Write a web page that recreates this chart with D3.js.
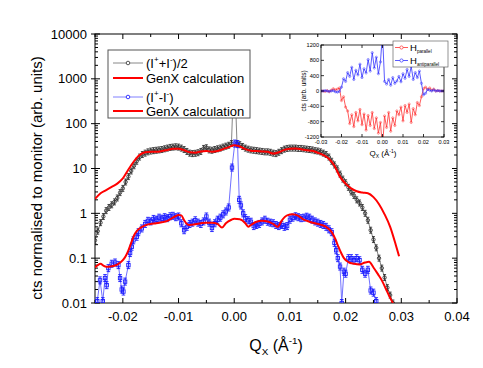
<!DOCTYPE html>
<html><head><meta charset="utf-8">
<script src="https://cdn.jsdelivr.net/npm/d3@7"></script>
<style>body{margin:0;background:#fff}svg{display:block;font-family:"Liberation Sans",Arial,sans-serif}</style>
</head><body><svg id="c" width="483" height="368"></svg>
<script>
// ---------- data ----------
const avgQ = [-0.0250,-0.0245,-0.0240,-0.0235,-0.0230,-0.0225,-0.0220,-0.0215,-0.0210,-0.0205,-0.0200,-0.0195,-0.0190,-0.0185,-0.0180,-0.0175,-0.0170,-0.0165,-0.0160,-0.0155,-0.0150,-0.0145,-0.0140,-0.0135,-0.0130,-0.0125,-0.0120,-0.0115,-0.0110,-0.0105,-0.0100,-0.0095,-0.0090,-0.0085,-0.0080,-0.0075,-0.0070,-0.0065,-0.0060,-0.0055,-0.0050,-0.0045,-0.0040,-0.0035,-0.0030,-0.0025,-0.0020,-0.0015,-0.0010,-0.0005,0.0000,0.0005,0.0010,0.0015,0.0020,0.0025,0.0030,0.0035,0.0040,0.0045,0.0050,0.0055,0.0060,0.0065,0.0070,0.0075,0.0080,0.0085,0.0090,0.0095,0.0100,0.0105,0.0110,0.0115,0.0120,0.0125,0.0130,0.0135,0.0140,0.0145,0.0150,0.0155,0.0160,0.0165,0.0170,0.0175,0.0180,0.0185,0.0190,0.0195,0.0200,0.0205,0.0210,0.0215,0.0220,0.0225,0.0230,0.0235,0.0240,0.0245,0.0250,0.0255,0.0260,0.0265,0.0270,0.0275,0.0280,0.0285];
const avgVal = [0.25,0.40,0.62,0.85,1.15,1.35,1.55,1.8,2.2,2.9,3.6,5.0,6.6,8.8,11.5,14.5,18,20.5,22,23.5,24.5,25,25.5,26,26.5,27.5,28.5,29.5,30,30.5,30,28.5,26.5,24,22,21.5,21.8,22.5,24,28,29,26,25.5,26.5,27.5,28.5,30,31.5,33,36,2000,36,34,31,28.5,27,26,25.5,25,24.5,24,23.5,23.5,23,22,21.5,23,25,27,28,28.5,28.5,28.5,28,28,27.5,27,26.5,26,25,24.5,23.5,22,20.5,18,14.5,12,9.8,7.5,5.8,4.8,3.8,3.0,2.5,2.0,1.7,1.35,1.0,0.70,0.42,0.26,0.17,0.10,0.06,0.037,0.022,0.015,0.010];

const diffQ = [-0.0246,-0.0241,-0.0236,-0.0232,-0.0229,-0.0226,-0.0220,-0.0214,-0.0208,-0.0205,-0.0202,-0.0199,-0.0196,-0.0190,-0.0187,-0.0184,-0.0181,-0.0175,-0.0172,-0.0166,-0.0160,-0.0155,-0.0150,-0.0145,-0.0140,-0.0135,-0.0130,-0.0125,-0.0120,-0.0115,-0.0110,-0.0105,-0.0100,-0.0095,-0.0090,-0.0085,-0.0080,-0.0075,-0.0070,-0.0065,-0.0060,-0.0055,-0.0050,-0.0045,-0.0040,-0.0035,-0.0030,-0.0025,-0.0020,-0.0015,-0.0010,-0.0004,0.0001,0.0006,0.0009,0.0012,0.0016,0.0020,0.0025,0.0030,0.0035,0.0040,0.0045,0.0050,0.0055,0.0060,0.0065,0.0070,0.0075,0.0080,0.0085,0.0090,0.0095,0.0100,0.0105,0.0110,0.0115,0.0120,0.0125,0.0130,0.0135,0.0140,0.0145,0.0150,0.0155,0.0160,0.0165,0.0170,0.0175,0.0180,0.0183,0.0186,0.0190,0.0193,0.0197,0.0200,0.0205,0.0210,0.0215,0.0220,0.0225,0.0230,0.0235,0.0240,0.0245,0.0250,0.0255];
const diffVal = [0.011,0.032,0.011,0.036,0.025,0.060,0.075,0.080,0.070,0.036,0.020,0.018,0.030,0.070,0.13,0.18,0.25,0.30,0.38,0.46,0.58,0.68,0.66,0.75,0.72,0.80,0.76,0.82,0.78,0.86,0.88,0.82,0.85,0.60,0.42,0.50,0.58,0.62,0.70,0.62,0.58,0.66,0.85,0.62,0.47,0.60,0.72,0.80,0.95,1.10,1.35,10.5,36,35,2.0,1.5,1.0,0.78,0.70,0.65,0.52,0.55,0.58,0.66,0.72,0.65,0.62,0.60,0.55,0.52,0.55,0.50,0.52,0.72,0.80,0.86,0.82,0.78,0.80,0.84,0.80,0.72,0.66,0.62,0.58,0.55,0.50,0.44,0.38,0.22,0.15,0.10,0.065,0.010,0.05,0.045,0.10,0.10,0.09,0.10,0.09,0.055,0.045,0.055,0.019,0.017,0.011];

const fitAvgQ = [-0.0250,-0.0240,-0.0230,-0.0220,-0.0210,-0.0200,-0.0190,-0.0180,-0.0170,-0.0160,-0.0150,-0.0140,-0.0130,-0.0120,-0.0110,-0.0100,-0.0090,-0.0080,-0.0070,-0.0060,-0.0050,-0.0040,-0.0030,-0.0020,-0.0010,0.0000,0.0010,0.0020,0.0030,0.0040,0.0050,0.0060,0.0070,0.0080,0.0090,0.0100,0.0110,0.0120,0.0130,0.0140,0.0150,0.0160,0.0170,0.0180,0.0190,0.0200,0.0210,0.0220,0.0230,0.0240,0.0250,0.0260,0.0270,0.0280,0.0290,0.0296];
const fitAvgVal = [2.1,2.8,3.3,3.9,4.6,6.0,9.5,14.5,20,23,23.7,23.7,24.5,26,27.5,27.5,25.5,23,22.5,24,24.5,23.7,24.5,27,30,33,31,27,25,24.5,24,23.5,21.5,23,26,27.5,28,27,25.5,24.8,22.5,20,16.5,11.5,6.5,4.6,3.6,3.1,2.9,2.8,2.3,1.6,0.95,0.5,0.2,0.11];

const fitDiffQ = [-0.0250,-0.0245,-0.0240,-0.0235,-0.0230,-0.0220,-0.0210,-0.0200,-0.0195,-0.0190,-0.0185,-0.0180,-0.0175,-0.0170,-0.0160,-0.0150,-0.0140,-0.0130,-0.0120,-0.0110,-0.0100,-0.0095,-0.0090,-0.0085,-0.0080,-0.0070,-0.0060,-0.0050,-0.0040,-0.0030,-0.0022,-0.0015,-0.0005,0.0000,0.0010,0.0020,0.0025,0.0030,0.0040,0.0050,0.0060,0.0070,0.0078,0.0085,0.0095,0.0105,0.0115,0.0125,0.0135,0.0145,0.0155,0.0165,0.0175,0.0182,0.0187,0.0192,0.0197,0.0205,0.0215,0.0225,0.0235,0.0242,0.0250,0.0258,0.0265,0.0272,0.0280,0.0285];
const fitDiffVal = [0.062,0.070,0.075,0.068,0.064,0.066,0.072,0.09,0.11,0.15,0.22,0.32,0.40,0.46,0.54,0.58,0.60,0.63,0.68,0.80,0.92,0.90,0.70,0.58,0.55,0.57,0.60,0.62,0.62,0.58,0.48,0.60,0.72,0.76,0.74,0.60,0.50,0.55,0.65,0.68,0.66,0.58,0.50,0.68,0.90,0.95,0.88,0.72,0.65,0.60,0.56,0.50,0.38,0.26,0.18,0.13,0.10,0.082,0.075,0.072,0.080,0.083,0.062,0.044,0.032,0.021,0.013,0.010];

const insetQ = [-0.030,-0.029,-0.028,-0.027,-0.026,-0.025,-0.024,-0.023,-0.022,-0.021,-0.020,-0.019,-0.018,-0.017,-0.016,-0.015,-0.014,-0.013,-0.012,-0.011,-0.010,-0.009,-0.008,-0.007,-0.006,-0.005,-0.004,-0.003,-0.002,-0.001,0.000,0.001,0.002,0.003,0.004,0.005,0.006,0.007,0.008,0.009,0.010,0.011,0.012,0.013,0.014,0.015,0.016,0.017,0.018,0.019,0.020,0.021,0.022,0.023,0.024,0.025,0.026,0.027,0.028,0.029,0.030];
const hParallel = [0,0,-10,10,-20,20,60,30,50,80,-250,-150,-420,-520,-850,-620,-930,-560,-780,-480,-880,-600,-1020,-640,-900,-560,-980,-700,-1100,-820,-1500,-650,-950,-560,-1050,-700,-900,-520,-620,-420,-780,-380,-560,-340,-820,-460,-620,-300,-380,-150,60,100,40,80,20,50,0,10,0,0,0];
const hAntiparallel = [0,0,10,0,-10,0,10,-20,-30,-10,100,320,250,480,380,620,300,540,420,700,350,580,470,820,520,1000,600,880,450,760,1500,250,180,300,150,350,200,260,380,240,450,330,560,380,640,300,480,350,520,200,-100,-60,40,20,0,30,0,10,0,0,0];

const xTicks = [-0.02,-0.01,0.00,0.01,0.02,0.03,0.04];
const yTicks = [0.01,0.1,1,10,100,1000,10000];
const insetXTicks = [-0.03,-0.02,-0.01,0.00,0.01,0.02,0.03];
const insetYTicks = [-1200,-800,-400,0,400,800,1200];

// ---------- drawing ----------
const svg = d3.select('#c');
const fmt2 = v => d3.format('.2f')(v).replace('\u2212','-');
const yFmt = v => v >= 1 ? String(Math.round(v)) : String(+v.toPrecision(1));

const x = d3.scaleLinear().domain([-0.025,0.04]).range([95,457]);
const y = d3.scaleLog().domain([0.01,10000]).range([303,34]);

svg.append('rect').attr('width',483).attr('height',368).attr('fill','#fff');

const defs = svg.append('defs');
defs.append('clipPath').attr('id','mainClip').append('rect')
  .attr('x',95).attr('y',34).attr('width',362).attr('height',269);

function richText(sel, parts, size){
  let cur = 0;
  parts.forEach(p => {
    let target = 0, fs = size;
    if (p.s === 'sup'){ target = -size*0.42; fs = size*0.62; }
    if (p.s === 'sub'){ target = size*0.28; fs = size*0.62; }
    sel.append('tspan').attr('dy', target-cur).attr('font-size', fs).text(p.t);
    cur = target;
  });
}

// main axes ticks
const gAx = svg.append('g').attr('stroke','#000').attr('stroke-width',1);
const [x0,x1] = x.range(), [yb,yt] = y.range();
const xMinor = d3.range(-0.025, 0.0401, 0.005);
xMinor.forEach(v => {
  const isMajor = xTicks.some(t => Math.abs(t-v) < 1e-9);
  const L = isMajor ? 5 : 3;
  gAx.append('line').attr('x1',x(v)).attr('x2',x(v)).attr('y1',yb).attr('y2',yb-L);
  gAx.append('line').attr('x1',x(v)).attr('x2',x(v)).attr('y1',yt).attr('y2',yt+L);
});
y.ticks().forEach(v => {
  const isMajor = yTicks.some(t => Math.abs(Math.log10(t)-Math.log10(v)) < 1e-9);
  const L = isMajor ? 5 : 3;
  gAx.append('line').attr('x1',x0).attr('x2',x0+L).attr('y1',y(v)).attr('y2',y(v));
  gAx.append('line').attr('x1',x1).attr('x2',x1-L).attr('y1',y(v)).attr('y2',y(v));
  if (isMajor) gAx.append('line').attr('x1',x0-4).attr('x2',x0).attr('y1',y(v)).attr('y2',y(v));
});
gAx.append('rect').attr('x',x0).attr('y',yt).attr('width',x1-x0).attr('height',yb-yt).attr('fill','none');

// tick labels
svg.append('g').selectAll('text').data(xTicks).join('text')
  .attr('x', d => x(d)).attr('y', 321).attr('text-anchor','middle')
  .attr('font-size',13).text(fmt2);
svg.append('g').selectAll('text').data(yTicks).join('text')
  .attr('x', 87).attr('y', d => y(d)+4.5).attr('text-anchor','end')
  .attr('font-size',13).text(yFmt);

// axis titles
const xt = svg.append('text').attr('x',276).attr('y',351).attr('text-anchor','middle').attr('font-size',16);
richText(xt, [{t:'Q'},{t:'X',s:'sub'},{t:' (Å'},{t:'-1',s:'sup'},{t:')'}], 16);
svg.append('text').attr('transform','translate(42,178) rotate(-90)').attr('text-anchor','middle')
  .attr('font-size',15).text('cts normalised to monitor (arb. units)');

// plot content
const plot = svg.append('g').attr('clip-path','url(#mainClip)');
const line = d3.line().x(d => x(d[0])).y(d => y(d[1]));
const smooth = d3.line().x(d => x(d[0])).y(d => y(d[1])).curve(d3.curveMonotoneX);

const avg = avgQ.map((q,i) => [q, avgVal[i]]);
const diff = diffQ.map((q,i) => [q, diffVal[i]]);
const fitA = fitAvgQ.map((q,i) => [q, fitAvgVal[i]]);
const fitD = fitDiffQ.map((q,i) => [q, fitDiffVal[i]]);

// black data
plot.append('path').attr('d', line(avg)).attr('fill','none').attr('stroke','#666').attr('stroke-width',0.8);
const gb = plot.append('g').attr('stroke','#222').attr('stroke-width',0.8).attr('fill','none');
avg.forEach(d => {
  const cx = x(d[0]), cy = y(d[1]);
  gb.append('line').attr('x1',cx).attr('x2',cx).attr('y1',cy-3).attr('y2',cy+3);
  gb.append('line').attr('x1',cx-1.5).attr('x2',cx+1.5).attr('y1',cy-3).attr('y2',cy-3);
  gb.append('line').attr('x1',cx-1.5).attr('x2',cx+1.5).attr('y1',cy+3).attr('y2',cy+3);
  gb.append('circle').attr('cx',cx).attr('cy',cy).attr('r',1.7);
});

// blue data
plot.append('path').attr('d', line(diff)).attr('fill','none').attr('stroke','#7070ff').attr('stroke-width',1);
const gbl = plot.append('g').attr('stroke','#1a1aff').attr('stroke-width',0.9).attr('fill','none');
diff.forEach(d => {
  const cx = x(d[0]), cy = y(d[1]);
  gbl.append('line').attr('x1',cx).attr('x2',cx).attr('y1',cy-3.5).attr('y2',cy+3.5);
  gbl.append('line').attr('x1',cx-1.8).attr('x2',cx+1.8).attr('y1',cy-3.5).attr('y2',cy-3.5);
  gbl.append('line').attr('x1',cx-1.8).attr('x2',cx+1.8).attr('y1',cy+3.5).attr('y2',cy+3.5);
  gbl.append('rect').attr('x',cx-1.7).attr('y',cy-1.7).attr('width',3.4).attr('height',3.4);
});

// fits
plot.append('path').attr('d', smooth(fitA)).attr('fill','none').attr('stroke','#ff0000').attr('stroke-width',2);
plot.append('path').attr('d', smooth(fitD)).attr('fill','none').attr('stroke','#ff0000').attr('stroke-width',2);

// legend
const lg = svg.append('g');
lg.append('rect').attr('x',108).attr('y',50).attr('width',142).attr('height',68)
  .attr('fill','#fff').attr('stroke','#555').attr('stroke-width',1);
const legendItems = [
  {y:63, kind:'black', parts:[{t:'(I'},{t:'+',s:'sup'},{t:'+I'},{t:'-',s:'sup'},{t:')/2'}]},
  {y:78, kind:'red', parts:[{t:'GenX calculation'}]},
  {y:97, kind:'blue', parts:[{t:'(I'},{t:'+',s:'sup'},{t:'-I'},{t:'-',s:'sup'},{t:')'}]},
  {y:111, kind:'red', parts:[{t:'GenX calculation'}]}
];
legendItems.forEach(it => {
  if (it.kind === 'red'){
    lg.append('line').attr('x1',113).attr('x2',143).attr('y1',it.y).attr('y2',it.y).attr('stroke','#ff0000').attr('stroke-width',2);
  } else {
    const lc = it.kind === 'black' ? '#888' : '#8080ff';
    const mc = it.kind === 'black' ? '#444' : '#2222ff';
    lg.append('line').attr('x1',113).attr('x2',143).attr('y1',it.y).attr('y2',it.y).attr('stroke',lc).attr('stroke-width',1);
    lg.append('circle').attr('cx',128).attr('cy',it.y).attr('r',1.8).attr('fill','#fff').attr('stroke',mc).attr('stroke-width',0.9);
  }
  const t = lg.append('text').attr('x',146).attr('y',it.y+4.5).attr('font-size',13);
  richText(t, it.parts, 13);
});

// ---------- inset ----------
const xi = d3.scaleLinear().domain([-0.03,0.03]).range([321,444]);
const yi = d3.scaleLinear().domain([-1200,1200]).range([137,45]);
defs.append('clipPath').attr('id','insetClip').append('rect')
  .attr('x',321).attr('y',45).attr('width',123).attr('height',92);
const ins = svg.append('g');
ins.append('rect').attr('x',321).attr('y',45).attr('width',123).attr('height',92).attr('fill','#fff');
const gi = ins.append('g').attr('clip-path','url(#insetClip)');
const iline = d3.line().x(d => xi(d[0])).y(d => yi(d[1]));
const par = insetQ.map((q,i) => [q, hParallel[i]]);
const anti = insetQ.map((q,i) => [q, hAntiparallel[i]]);
[[par,'#ff3030'],[anti,'#3030ff']].forEach(([data,col]) => {
  gi.append('path').attr('d', iline(data)).attr('fill','none').attr('stroke',col).attr('stroke-width',0.8);
  gi.selectAll(null).data(data).join('circle')
    .attr('cx', d => xi(d[0])).attr('cy', d => yi(d[1])).attr('r',1.1)
    .attr('fill','none').attr('stroke',col).attr('stroke-width',0.5);
});
const gia = ins.append('g').attr('stroke','#000').attr('stroke-width',0.8);
insetXTicks.forEach(v => {
  gia.append('line').attr('x1',xi(v)).attr('x2',xi(v)).attr('y1',137).attr('y2',134);
  gia.append('line').attr('x1',xi(v)).attr('x2',xi(v)).attr('y1',45).attr('y2',48);
});
insetYTicks.forEach(v => {
  gia.append('line').attr('x1',321).attr('x2',324).attr('y1',yi(v)).attr('y2',yi(v));
  gia.append('line').attr('x1',444).attr('x2',441).attr('y1',yi(v)).attr('y2',yi(v));
});
gia.append('rect').attr('x',321).attr('y',45).attr('width',123).attr('height',92).attr('fill','none');
ins.append('g').selectAll('text').data(insetXTicks).join('text')
  .attr('x', d => xi(d)).attr('y',144).attr('text-anchor','middle').attr('font-size',5.6).text(fmt2);
ins.append('g').selectAll('text').data(insetYTicks).join('text')
  .attr('x',319).attr('y', d => yi(d)+2).attr('text-anchor','end').attr('font-size',5.6).text(d => String(d));
const ixt = ins.append('text').attr('x',383).attr('y',156).attr('text-anchor','middle').attr('font-size',8);
richText(ixt, [{t:'Q'},{t:'X',s:'sub'},{t:' (Å'},{t:'-1',s:'sup'},{t:')'}], 8);
ins.append('text').attr('transform','translate(306,91) rotate(-90)').attr('text-anchor','middle')
  .attr('font-size',6.5).text('cts (arb. units)');
// inset legend
const il = ins.append('g');
il.append('rect').attr('x',393).attr('y',41).attr('width',55).attr('height',26).attr('fill','#fff').attr('stroke','#666').attr('stroke-width',0.7);
[{y:47.5, c:'#ff3030', sub:'parallel'},{y:60.5, c:'#3030ff', sub:'antiparallel'}].forEach(it => {
  il.append('line').attr('x1',395).attr('x2',408).attr('y1',it.y).attr('y2',it.y).attr('stroke',it.c).attr('stroke-width',0.8);
  il.append('circle').attr('cx',401.5).attr('cy',it.y).attr('r',1.6).attr('fill','#fff').attr('stroke',it.c).attr('stroke-width',0.7);
  const t = il.append('text').attr('x',410).attr('y',it.y+3.3).attr('font-size',9.5);
  t.append('tspan').text('H');
  t.append('tspan').attr('dy',2).attr('font-size',4.6).text(it.sub);
});
</script>
</body></html>
